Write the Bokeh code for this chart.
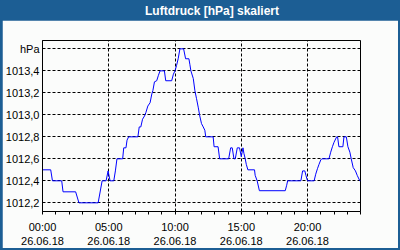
from bokeh.plotting import figure
from bokeh.models import FixedTicker, LinearAxis, Range1d, Spacer
from bokeh.layouts import column, row
from bokeh.core.properties import value
from bokeh.embed import file_html
from bokeh.resources import INLINE

# ---- data (hours since 26.06.18 00:00, pressure hPa) ----
hours = [0.0, 0.62, 0.75, 1.45, 1.55, 2.50, 2.75, 4.20, 4.50, 4.80, 4.95, 5.10, 5.38, 5.50,
         5.62, 6.05, 6.13, 6.30, 6.38, 6.50, 7.20, 7.30, 7.42, 7.55, 7.70, 7.80, 7.95, 8.12,
         8.25, 8.33, 8.45, 8.62, 8.75, 8.87, 9.20, 9.30, 9.75, 9.88, 10.0, 10.12, 10.24, 10.37,
         10.65, 10.80, 11.05, 11.12, 11.20, 11.38, 11.50, 11.62, 11.75, 11.87, 12.0, 12.13,
         12.25, 12.32, 12.88, 12.95, 13.25, 13.37, 14.05, 14.20, 14.32, 14.45, 14.55, 14.70,
         14.87, 15.0, 15.13, 15.20, 15.30, 15.38, 15.50, 16.0, 16.05, 16.20, 16.37, 18.32,
         18.43, 18.50, 19.50, 19.63, 19.80, 19.88, 20.0, 20.50, 20.62, 20.75, 20.87, 21.0,
         21.08, 21.62, 21.75, 21.88, 22.0, 22.20, 22.27, 22.37, 22.67, 22.75, 22.93, 23.05,
         23.20, 23.30, 23.45, 23.62, 23.75, 23.95, 24.0]
pressure = [1012.50, 1012.50, 1012.40, 1012.40, 1012.30, 1012.30, 1012.20, 1012.20, 1012.40,
            1012.40, 1012.49, 1012.40, 1012.40, 1012.49, 1012.60, 1012.60, 1012.70, 1012.70,
            1012.77, 1012.80, 1012.80, 1012.89, 1012.89, 1012.96, 1012.99, 1013.02, 1013.08,
            1013.11, 1013.19, 1013.22, 1013.30, 1013.31, 1013.36, 1013.40, 1013.40, 1013.31,
            1013.31, 1013.37, 1013.40, 1013.45, 1013.51, 1013.60, 1013.60, 1013.51, 1013.51,
            1013.46, 1013.40, 1013.33, 1013.22, 1013.15, 1013.07, 1012.99, 1012.92, 1012.89,
            1012.86, 1012.80, 1012.80, 1012.71, 1012.71, 1012.60, 1012.60, 1012.70, 1012.70,
            1012.60, 1012.60, 1012.70, 1012.70, 1012.62, 1012.70, 1012.65, 1012.60, 1012.55,
            1012.50, 1012.50, 1012.45, 1012.40, 1012.31, 1012.31, 1012.36, 1012.40, 1012.40,
            1012.49, 1012.49, 1012.45, 1012.40, 1012.40, 1012.46, 1012.51, 1012.55, 1012.59,
            1012.60, 1012.60, 1012.66, 1012.71, 1012.75, 1012.80, 1012.80, 1012.71, 1012.71,
            1012.80, 1012.80, 1012.71, 1012.66, 1012.60, 1012.52, 1012.49, 1012.45, 1012.40,
            1012.40]

title_text = "Luftdruck [hPa] skaliert"
x_label_hours = [0, 5, 10, 15, 20]
time_labels = ["00:00", "05:00", "10:00", "15:00", "20:00"]
date_labels = ["26.06.18", "26.06.18", "26.06.18", "26.06.18", "26.06.18"]
y_ticks = [1012.2, 1012.4, 1012.6, 1012.8, 1013.0, 1013.2, 1013.4, 1013.6]
y_labels = ["1012,2", "1012,4", "1012,6", "1012,8", "1013,0", "1013,2", "1013,4", "hPa"]

BLUE = "#1c5e94"
BG = "#fbfcfb"
FONT = "Liberation Sans"

# ---- title bar ----
tf = figure(width=400, height=20, x_range=Range1d(0, 400), y_range=Range1d(0, 20),
            output_backend="svg", toolbar_location=None, min_border=0)
tf.axis.visible = False
tf.grid.visible = False
tf.outline_line_color = None
tf.background_fill_color = BLUE
tf.border_fill_color = BLUE
tf.text(x=[211.5], y=[10], text=[title_text], text_align="center", text_baseline="middle",
        text_color="white", text_font=value(FONT), text_font_style="bold",
        text_font_size="12px")

# ---- main chart ----
p = figure(width=396, height=228, output_backend="svg", toolbar_location=None,
           x_range=Range1d(0, 24), y_range=Range1d(1012.121, 1013.676),
           min_border_left=38, min_border_right=38, min_border_top=20, min_border_bottom=37)
p.background_fill_color = BG
p.border_fill_color = BG
p.outline_line_color = "black"
p.outline_line_width = 1

p.line(hours, pressure, line_color="#0000ff", line_width=1)

# y axis
p.yaxis.ticker = FixedTicker(ticks=y_ticks)
p.yaxis.major_label_overrides = {t: l for t, l in zip(y_ticks, y_labels)}
p.yaxis.major_tick_out = 0
p.yaxis.major_tick_in = 0
p.yaxis.minor_tick_out = 0
p.yaxis.minor_tick_in = 0
p.yaxis.major_label_standoff = 3
p.yaxis.axis_line_color = "black"
p.yaxis.major_label_text_font = FONT
p.yaxis.major_label_text_font_size = "11px"
p.yaxis.major_label_text_color = "black"

# x axis (hour ticks, time labels)
hour_ticks = list(range(0, 25))
p.xaxis.ticker = FixedTicker(ticks=hour_ticks)
overrides = {h: "" for h in hour_ticks}
for h, l in zip(x_label_hours, time_labels):
    overrides[h] = l
p.xaxis.major_label_overrides = overrides
p.xaxis.major_tick_out = 3
p.xaxis.major_tick_in = 0
p.xaxis.minor_tick_out = 0
p.xaxis.minor_tick_in = 0
p.xaxis.major_label_standoff = 6
p.xaxis.axis_line_color = "black"
p.xaxis.major_tick_line_color = "black"
p.xaxis.major_label_text_font = FONT
p.xaxis.major_label_text_font_size = "11px"
p.xaxis.major_label_text_color = "black"

# date axis
dax = LinearAxis(ticker=FixedTicker(ticks=x_label_hours),
                 major_label_overrides={h: d for h, d in zip(x_label_hours, date_labels)})
dax.axis_line_color = None
dax.major_tick_line_color = None
dax.minor_tick_line_color = None
dax.major_tick_out = 0
dax.major_tick_in = 0
dax.major_label_standoff = 1
dax.major_label_text_font = FONT
dax.major_label_text_font_size = "11px"
dax.major_label_text_color = "black"
p.add_layout(dax, "below")

# grids
p.xgrid.ticker = FixedTicker(ticks=[5, 10, 15, 20])
p.ygrid.ticker = FixedTicker(ticks=y_ticks)
for g in (p.xgrid, p.ygrid):
    g.grid_line_color = "black"
    g.grid_line_dash = "3 2"
    g.grid_line_width = 1
    g.grid_line_alpha = 1.0

sp_style = {"background-color": BLUE}
layout = column(
    tf,
    row(Spacer(width=2, height=228, styles=sp_style), p,
        Spacer(width=2, height=228, styles=sp_style)),
    Spacer(width=400, height=2, styles=sp_style),
    styles={"background-color": BLUE},
)

open("out.html", "w").write(file_html(layout, INLINE))
